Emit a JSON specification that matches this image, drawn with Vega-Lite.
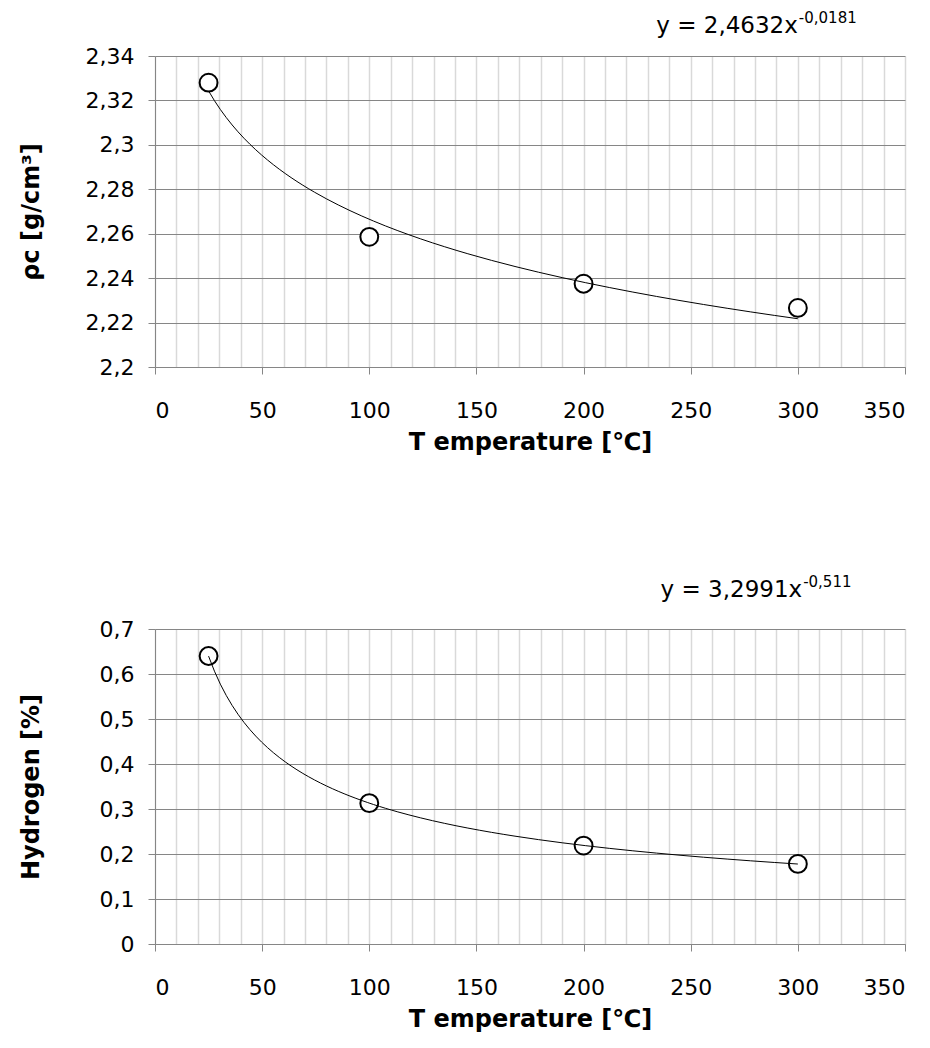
{
  "$schema": "https://vega.github.io/schema/vega-lite/v6.json",
  "background": "white",
  "padding": {"left": 19, "top": 10, "right": 5, "bottom": 5},
  "config": {
    "font": "DejaVu Sans",
    "view": {"stroke": null},
    "axis": {
      "labelFont": "DejaVu Sans",
      "labelFontSize": 22,
      "labelColor": "black",
      "labelOverlap": false,
      "titleFont": "DejaVu Sans",
      "titleFontSize": 24,
      "titleFontWeight": "bold",
      "titleColor": "black",
      "domainColor": "#868686",
      "tickColor": "#868686",
      "tickSize": 7
    },
    "axisX": {
      "tickCount": 35,
      "gridColor": "#d9d9d9",
      "gridWidth": 1.5,
      "labelPadding": 26,
      "titlePadding": 9,
      "labelExpr": "datum.value % 50 === 0 ? datum.label : ''",
      "tickColor": {"condition": {"test": "datum.value % 50 === 0", "value": "#868686"}, "value": "transparent"}
    },
    "axisY": {
      "gridColor": "#868686",
      "gridWidth": 1,
      "labelPadding": 14,
      "titleX": -112,
      "titleBaseline": "bottom"
    }
  },
  "vconcat": [
    {
      "width": 750,
      "height": 311,
      "data": {"values": [
        {"T": 25, "rho": 2.328},
        {"T": 100, "rho": 2.2586},
        {"T": 200, "rho": 2.2375},
        {"T": 300, "rho": 2.2266}
      ]},
      "layer": [
        {
          "mark": {"type": "point", "shape": "circle", "size": 320, "filled": true, "fill": "white", "stroke": "black", "strokeWidth": 2, "opacity": 1},
          "encoding": {
            "x": {"field": "T", "type": "quantitative",
              "scale": {"domain": [0, 350], "nice": false, "zero": false},
              "axis": {"title": "T emperature [℃]"}},
            "y": {"field": "rho", "type": "quantitative",
              "scale": {"domain": [2.2, 2.34], "nice": false, "zero": false},
              "axis": {"tickCount": 7, "format": "~g", "labelExpr": "replace(datum.label, '.', ',')", "title": "ρc [g/cm³]"}}
          }
        },
        {
          "transform": [{"regression": "rho", "on": "T", "method": "pow"}],
          "mark": {"type": "line", "color": "black", "strokeWidth": 1},
          "encoding": {
            "x": {"field": "T", "type": "quantitative"},
            "y": {"field": "rho", "type": "quantitative"}
          }
        },
        {
          "data": {"values": [{"label": "y = 2,4632x"}]},
          "mark": {"type": "text", "align": "right", "baseline": "alphabetic", "fontSize": 23, "fontWeight": "normal", "font": "DejaVu Sans", "color": "black"},
          "encoding": {
            "x": {"datum": 300, "type": "quantitative"},
            "y": {"datum": 2.3505, "type": "quantitative"},
            "text": {"field": "label"}
          }
        },
        {
          "data": {"values": [{"label": "-0,0181"}]},
          "mark": {"type": "text", "align": "left", "baseline": "alphabetic", "fontSize": 15, "fontWeight": "normal", "font": "DejaVu Sans", "color": "black", "dx": 1, "dy": -10},
          "encoding": {
            "x": {"datum": 300, "type": "quantitative"},
            "y": {"datum": 2.3505, "type": "quantitative"},
            "text": {"field": "label"}
          }
        }
      ]
    },
    {
      "width": 750,
      "height": 315,
      "data": {"values": [
        {"T": 25, "H": 0.64},
        {"T": 100, "H": 0.313},
        {"T": 200, "H": 0.2187},
        {"T": 300, "H": 0.178}
      ]},
      "layer": [
        {
          "mark": {"type": "point", "shape": "circle", "size": 320, "filled": true, "fill": "white", "stroke": "black", "strokeWidth": 2, "opacity": 1},
          "encoding": {
            "x": {"field": "T", "type": "quantitative",
              "scale": {"domain": [0, 350], "nice": false, "zero": false},
              "axis": {"title": "T emperature [℃]"}},
            "y": {"field": "H", "type": "quantitative",
              "scale": {"domain": [0, 0.7], "nice": false, "zero": false},
              "axis": {"tickCount": 7, "format": "~g", "labelExpr": "replace(datum.label, '.', ',')", "title": "Hydrogen [%]"}}
          }
        },
        {
          "transform": [{"regression": "H", "on": "T", "method": "pow"}],
          "mark": {"type": "line", "color": "black", "strokeWidth": 1},
          "encoding": {
            "x": {"field": "T", "type": "quantitative"},
            "y": {"field": "H", "type": "quantitative"}
          }
        },
        {
          "data": {"values": [{"label": "y = 3,2991x"}]},
          "mark": {"type": "text", "align": "right", "baseline": "alphabetic", "fontSize": 23, "fontWeight": "normal", "font": "DejaVu Sans", "color": "black"},
          "encoding": {
            "x": {"datum": 302, "type": "quantitative"},
            "y": {"datum": 0.771, "type": "quantitative"},
            "text": {"field": "label"}
          }
        },
        {
          "data": {"values": [{"label": "-0,511"}]},
          "mark": {"type": "text", "align": "left", "baseline": "alphabetic", "fontSize": 15, "fontWeight": "normal", "font": "DejaVu Sans", "color": "black", "dx": 1, "dy": -10},
          "encoding": {
            "x": {"datum": 302, "type": "quantitative"},
            "y": {"datum": 0.771, "type": "quantitative"},
            "text": {"field": "label"}
          }
        }
      ]
    }
  ],
  "spacing": 121
}
